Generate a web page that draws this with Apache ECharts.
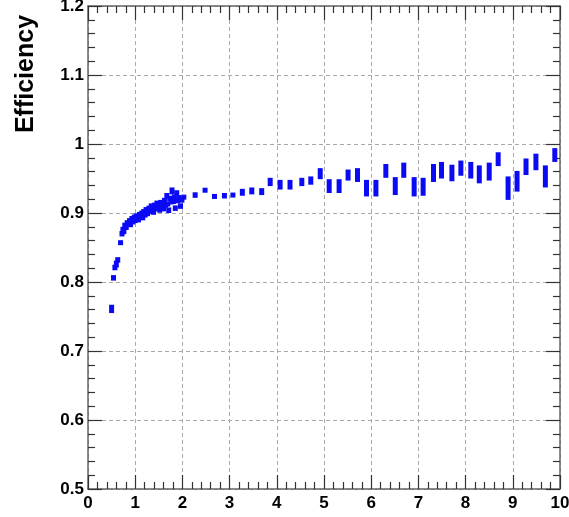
<!DOCTYPE html>
<html>
<head>
<meta charset="utf-8">
<script src="https://cdn.jsdelivr.net/npm/echarts@6/dist/echarts.min.js"></script>
<style>html,body{margin:0;padding:0;background:#fff;}#c{width:569px;height:517px;}</style>
</head>
<body>
<div id="c"></div>
<script>
// x positions of the efficiency points
const ptX = [
  0.50,0.54,0.57,0.60,0.63,0.69,0.72,0.74,0.76,0.78,0.81,0.83,0.86,0.88,0.90,0.93,0.95,0.98,1.00,1.02,
  1.04,1.07,1.09,1.12,1.14,1.16,1.18,1.21,1.23,1.26,1.29,1.31,1.34,1.36,1.39,1.41,1.44,1.46,1.49,1.52,
  1.54,1.57,1.60,1.62,1.64,1.67,1.69,1.71,1.73,1.76,1.78,1.81,1.83,1.85,1.88,1.90,1.93,1.96,1.99,2.03,
  2.27,2.48,2.68,2.89,3.07,3.27,3.47,3.68,3.86,4.07,4.28,4.53,4.72,4.92,5.11,5.32,5.51,5.71,5.90,6.10,
  6.31,6.51,6.69,6.91,7.10,7.32,7.49,7.71,7.90,8.11,8.29,8.50,8.69,8.90,9.09,9.28,9.49,9.69,9.89
];
// efficiency values
const ptY = [
  0.761,0.806,0.821,0.826,0.832,0.857,0.870,0.876,0.873,0.882,0.879,0.886,0.884,0.889,0.883,0.892,0.887,0.894,0.889,0.896,
  0.893,0.890,0.898,0.895,0.900,0.893,0.902,0.897,0.905,0.899,0.907,0.902,0.910,0.904,0.901,0.911,0.906,0.914,0.908,0.904,
  0.915,0.910,0.906,0.918,0.911,0.925,0.913,0.904,0.921,0.916,0.932,0.917,0.923,0.907,0.929,0.918,0.922,0.910,0.919,0.923,
  0.926,0.933,0.924,0.925,0.926,0.930,0.932,0.931,0.945,0.941,0.941,0.945,0.947,0.957,0.939,0.939,0.955,0.955,0.936,0.936,
  0.961,0.939,0.962,0.938,0.938,0.958,0.962,0.958,0.965,0.962,0.956,0.960,0.978,0.936,0.946,0.967,0.974,0.953,0.984
];
// half-size of the error bars
const ptErr = [
  0.006,0.004,0.004,0.005,0.004,0.003,0.004,0.004,0.003,0.004,0.003,0.003,0.003,0.003,0.003,0.003,0.003,0.003,0.003,0.003,
  0.003,0.003,0.003,0.003,0.003,0.003,0.003,0.003,0.003,0.003,0.003,0.003,0.004,0.003,0.003,0.004,0.003,0.004,0.003,0.003,
  0.004,0.003,0.003,0.004,0.003,0.004,0.003,0.004,0.004,0.003,0.005,0.004,0.004,0.004,0.004,0.004,0.004,0.004,0.004,0.003,
  0.004,0.003,0.003,0.004,0.003,0.005,0.005,0.005,0.006,0.007,0.007,0.006,0.006,0.008,0.010,0.010,0.008,0.010,0.012,0.012,
  0.010,0.013,0.011,0.014,0.013,0.013,0.012,0.012,0.011,0.012,0.013,0.013,0.010,0.017,0.015,0.012,0.012,0.016,0.010
];
const xTicks = [0,1,2,3,4,5,6,7,8,9,10];
const yTicks = [0.5,0.6,0.7,0.8,0.9,1.0,1.1,1.2];

const data = ptX.map((x,i)=>[x, ptY[i], ptErr[i]]);

function tick(){ return {show:true, inside:true, length:14, lineStyle:{color:'#333', width:1.2}}; }
function minor(){ return {show:true, splitNumber:5, length:7, lineStyle:{color:'#333', width:1.2}}; }
function line(){ return {show:true, onZero:false, lineStyle:{color:'#666', width:1.5}}; }
function lab(extra){ return Object.assign({color:'#000', fontSize:17, fontWeight:'bold', fontFamily:'Liberation Sans'}, extra); }

const custom = {
  type:'custom', data:data,
  renderItem:function(p, api){
    const x = api.value(0), y = api.value(1), e = api.value(2);
    const t = api.coord([x, y + e]), b = api.coord([x, y - e]);
    let h = b[1] - t[1], top = t[1];
    if (h < 5) { top = (t[1] + b[1]) / 2 - 2.5; h = 5; }
    return {type:'rect', shape:{x:t[0]-2.5, y:top, width:5, height:h}, style:{fill:'#0a0af5'}};
  }
};
const split = {show:true, lineStyle:{color:'#aaa', type:[4,3], width:1}};

const chart = echarts.init(document.getElementById('c'));
chart.setOption({
  animation:false,
  grid:{left:88, right:9, top:6, bottom:28, outerBoundsMode:'none'},
  xAxis:[
    {type:'value', min:xTicks[0], max:xTicks[xTicks.length-1], interval:1, axisLine:line(), axisTick:tick(), minorTick:minor(), splitLine:split,
     axisLabel:lab({margin:6})},
    {type:'value', position:'top', min:xTicks[0], max:xTicks[xTicks.length-1], interval:1, axisLine:line(), axisTick:tick(), minorTick:minor(), splitLine:{show:false}, axisLabel:{show:false}}
  ],
  yAxis:[
    {type:'value', min:yTicks[0], max:yTicks[yTicks.length-1], interval:0.1, axisLine:line(), axisTick:tick(), minorTick:minor(), splitLine:split,
     axisLabel:lab({margin:4, formatter:function(v){ return String(+v.toFixed(1)); }})},
    {type:'value', position:'right', min:yTicks[0], max:yTicks[yTicks.length-1], interval:0.1, axisLine:line(), axisTick:tick(), minorTick:minor(), splitLine:{show:false}, axisLabel:{show:false}}
  ],
  graphic:[{type:'text', x:26, y:74, rotation:Math.PI/2,
    style:{text:'Efficiency', fill:'#000', font:'bold 25px "Liberation Sans", Arial, sans-serif', align:'center', verticalAlign:'middle'}}],
  series:[custom]
});
</script>
</body>
</html>
